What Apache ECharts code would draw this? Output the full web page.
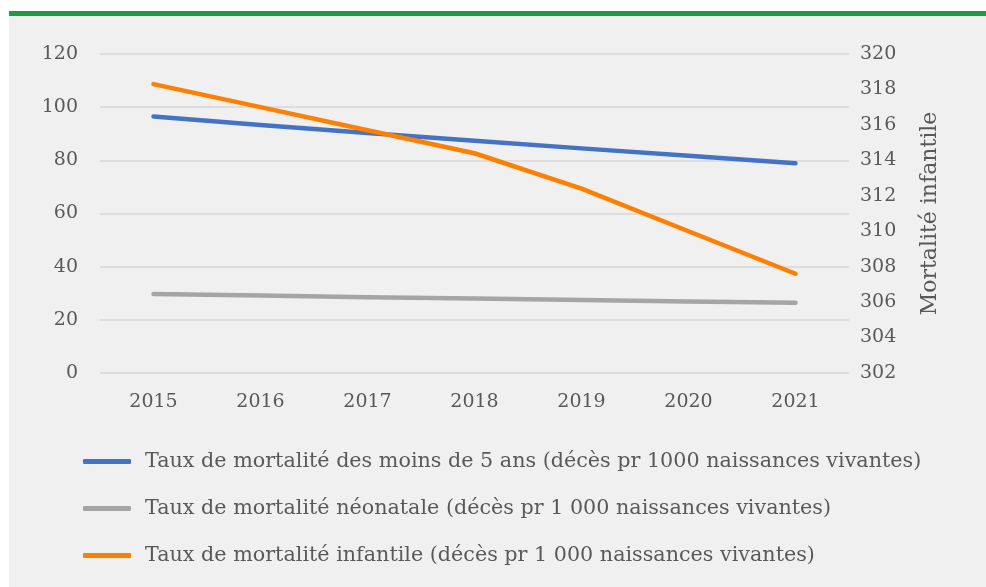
<!DOCTYPE html>
<html>
<head>
<meta charset="utf-8">
<script src="https://cdn.jsdelivr.net/npm/echarts@6/dist/echarts.min.js"></script>
<style>
  html, body { margin: 0; padding: 0; background: #ffffff; }
  #bar { position: absolute; left: 9px; top: 11px; width: 977px; height: 5px; background: #1f9c3f; }
  #chart { position: absolute; left: 9px; top: 16px; width: 977px; height: 571px; background: #f0f0f0; }
</style>
</head>
<body>
<div id="bar"></div>
<div id="chart"></div>
<script>
var years = ['2015', '2016', '2017', '2018', '2019', '2020', '2021'];
var moins5 = [96.5, 93.3, 90.3, 87.4, 84.5, 81.7, 78.9];
var neonatale = [29.7, 29.2, 28.5, 28.0, 27.5, 26.9, 26.4];
var infantile = [318.3, 317.0, 315.7, 314.4, 312.4, 310.0, 307.6];
var names = [
  'Taux de mortalité des moins de 5 ans (décès pr 1000 naissances vivantes)',
  'Taux de mortalité néonatale (décès pr 1 000 naissances vivantes)',
  'Taux de mortalité infantile (décès pr 1 000 naissances vivantes)'
];

var font = '"DejaVu Serif", serif';
var chart = echarts.init(document.getElementById('chart'));
chart.setOption({
  animation: false,
  textStyle: { fontFamily: font, color: '#595959' },
  grid: { left: 91, right: 137, top: 38, bottom: 214, containLabel: false },
  xAxis: {
    type: 'category',
    data: years,
    axisLine: { show: false },
    axisTick: { show: false },
    axisLabel: { color: '#595959', fontSize: 19, fontFamily: font, margin: 20 }
  },
  yAxis: [{
    type: 'value',
    min: 0, max: 120, interval: 20,
    axisLine: { show: false },
    axisTick: { show: false },
    splitLine: { lineStyle: { color: '#d9d9d9', width: 1.5 } },
    axisLabel: { color: '#595959', fontSize: 19, fontFamily: font, margin: 22 }
  }, {
    type: 'value',
    min: 302, max: 320, interval: 2,
    position: 'right',
    name: 'Mortalité infantile',
    nameLocation: 'middle',
    nameRotate: 90,
    nameGap: 70,
    nameTextStyle: { color: '#595959', fontSize: 22, fontFamily: font },
    axisLine: { show: false },
    axisTick: { show: false },
    splitLine: { show: false },
    axisLabel: { color: '#595959', fontSize: 19, fontFamily: font, margin: 11 }
  }],
  legend: {
    orient: 'vertical',
    left: 69,
    top: 430,
    itemGap: 26,
    itemWidth: 48,
    itemHeight: 5,
    icon: 'roundRect',
    textStyle: { color: '#595959', fontSize: 20.7, fontFamily: font, padding: [0, 0, 0, 9] },
    data: names
  },
  series: [{
    name: names[0], type: 'line', data: moins5, yAxisIndex: 0,
    symbol: 'none', color: '#4472c4',
    lineStyle: { width: 4.5, cap: 'round', join: 'round' }
  }, {
    name: names[1], type: 'line', data: neonatale, yAxisIndex: 0,
    symbol: 'none', color: '#a5a5a5',
    lineStyle: { width: 4.5, cap: 'round', join: 'round' }
  }, {
    name: names[2], type: 'line', data: infantile, yAxisIndex: 1,
    symbol: 'none', color: '#ff7f00',
    lineStyle: { width: 4.5, cap: 'round', join: 'round' }
  }]
});
</script>
</body>
</html>
